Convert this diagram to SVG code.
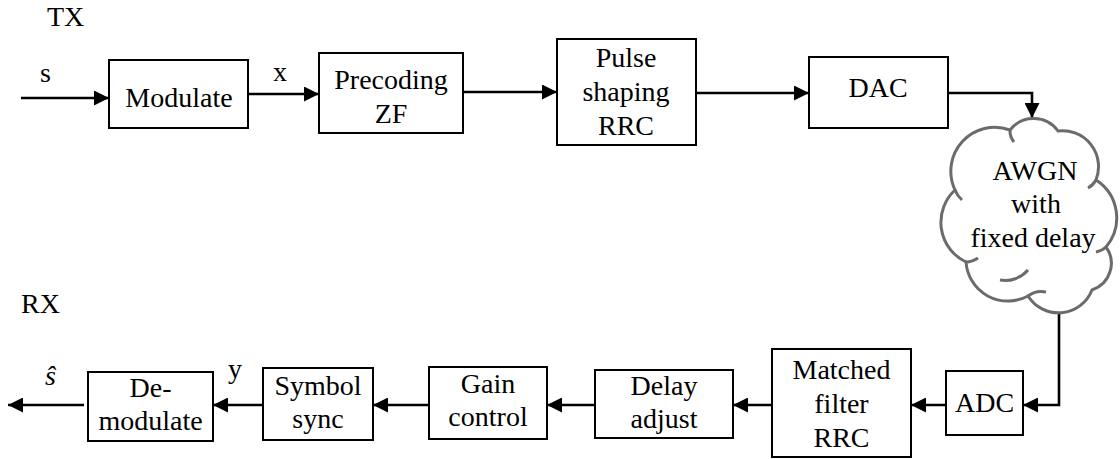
<svg xmlns="http://www.w3.org/2000/svg" width="1120" height="459" viewBox="0 0 1120 459" font-family="'Liberation Serif', 'Times New Roman', Times, 'DejaVu Serif', serif">
<style>
text{font-family:'Liberation Serif','Times New Roman',Times,'DejaVu Serif',serif;font-size:28px;fill:#000}
.c{text-anchor:middle}
.box{fill:#fff;stroke:#000;stroke-width:2}
.ln{fill:none;stroke:#000;stroke-width:2.6}
.cloud{fill:#fff;stroke:#6b6b6b;stroke-width:3}
.inner{fill:none;stroke:#6b6b6b;stroke-width:3}
</style>
<defs>
<marker id="ah" markerUnits="userSpaceOnUse" markerWidth="15" markerHeight="15" refX="15" refY="7.5" orient="auto">
<path d="M0,0 L15,7.5 L0,15 z" fill="#000"/>
</marker>
</defs>
<rect width="1120" height="459" fill="#fff"/>
<text x="47" y="26">TX</text>
<text x="21" y="313">RX</text>
<g id="connectors">
<path class="ln" d="M21,98 H109" marker-end="url(#ah)"/>
<path class="ln" d="M248,94 H319" marker-end="url(#ah)"/>
<path class="ln" d="M463,92 H557" marker-end="url(#ah)"/>
<path class="ln" d="M696,93 H809" marker-end="url(#ah)"/>
<path class="ln" d="M948,93 H1032 V118" marker-end="url(#ah)"/>
<path class="ln" d="M1059,297 V405 H1023" marker-end="url(#ah)"/>
<path class="ln" d="M946,405 H911" marker-end="url(#ah)"/>
<path class="ln" d="M772,405 H733" marker-end="url(#ah)"/>
<path class="ln" d="M595,405 H547" marker-end="url(#ah)"/>
<path class="ln" d="M429,405 H373" marker-end="url(#ah)"/>
<path class="ln" d="M263,405 H213" marker-end="url(#ah)"/>
<path class="ln" d="M84,405 H8" marker-end="url(#ah)"/>
<text x="40" y="82">s</text>
<text x="273" y="81">x</text>
<text x="228" y="378">y</text>
<text x="45" y="385" font-style="italic">ŝ</text>
</g>
<g id="modulate">
<rect class="box" x="109" y="60" width="139" height="68"/>
<text class="c" x="179" y="107">Modulate</text>
</g>
<g id="precoding">
<rect class="box" x="319" y="53" width="144" height="80"/>
<text class="c" x="391" y="89">Precoding</text>
<text class="c" x="391" y="123">ZF</text>
</g>
<g id="pulse">
<rect class="box" x="557" y="39" width="139" height="106"/>
<text class="c" x="626" y="67">Pulse</text>
<text class="c" x="626" y="101">shaping</text>
<text class="c" x="626" y="135">RRC</text>
</g>
<g id="dac">
<rect class="box" x="809" y="57" width="139" height="71"/>
<text class="c" x="878" y="97">DAC</text>
</g>
<g id="awgn">
<path class="cloud" d="M955,190 A44,44 0 0 1 1010,130 A30,30 0 0 1 1058,131 A36,36 0 0 1 1096,180 A45,45 0 0 1 1106,247 A28,28 0 0 1 1092,290 A36,36 0 0 1 1028,296 A42,42 0 0 1 966,262 A44,44 0 0 1 955,190 Z"/>
<path class="inner" d="M1010,130 A18,18 0 0 0 1014,142"/>
<path class="inner" d="M955,190 A26,26 0 0 0 962,200"/>
<path class="inner" d="M966,262 A22,22 0 0 0 978,258"/>
<path class="inner" d="M1000,280 A30,30 0 0 0 1028,270"/>
<path class="inner" d="M1028,296 A22,22 0 0 1 1046,292"/>
<path class="inner" d="M1106,247 A20,20 0 0 1 1096,252"/>
<path class="inner" d="M1096,180 A20,20 0 0 1 1088,188"/>
<text class="c" x="1035" y="180">AWGN</text>
<text class="c" x="1036" y="213">with</text>
<text class="c" x="1033" y="247">fixed delay</text>
</g>
<g id="adc">
<rect class="box" x="946" y="371" width="77" height="64"/>
<text class="c" x="984.5" y="412">ADC</text>
</g>
<g id="matched">
<rect class="box" x="772" y="349" width="139" height="108"/>
<text class="c" x="841.5" y="379">Matched</text>
<text class="c" x="841.5" y="413">filter</text>
<text class="c" x="841.5" y="447">RRC</text>
</g>
<g id="delay">
<rect class="box" x="595" y="370" width="138" height="68"/>
<text class="c" x="664" y="395">Delay</text>
<text class="c" x="664" y="428">adjust</text>
</g>
<g id="gain">
<rect class="box" x="429" y="367" width="118" height="72"/>
<text class="c" x="488" y="393">Gain</text>
<text class="c" x="488" y="426">control</text>
</g>
<g id="symbol">
<rect class="box" x="263" y="368" width="110" height="72"/>
<text class="c" x="318" y="395">Symbol</text>
<text class="c" x="318" y="428">sync</text>
</g>
<g id="demodulate">
<rect class="box" x="88" y="372" width="125" height="69"/>
<text class="c" x="150.5" y="397">De-</text>
<text class="c" x="150.5" y="430">modulate</text>
</g>
</svg>
